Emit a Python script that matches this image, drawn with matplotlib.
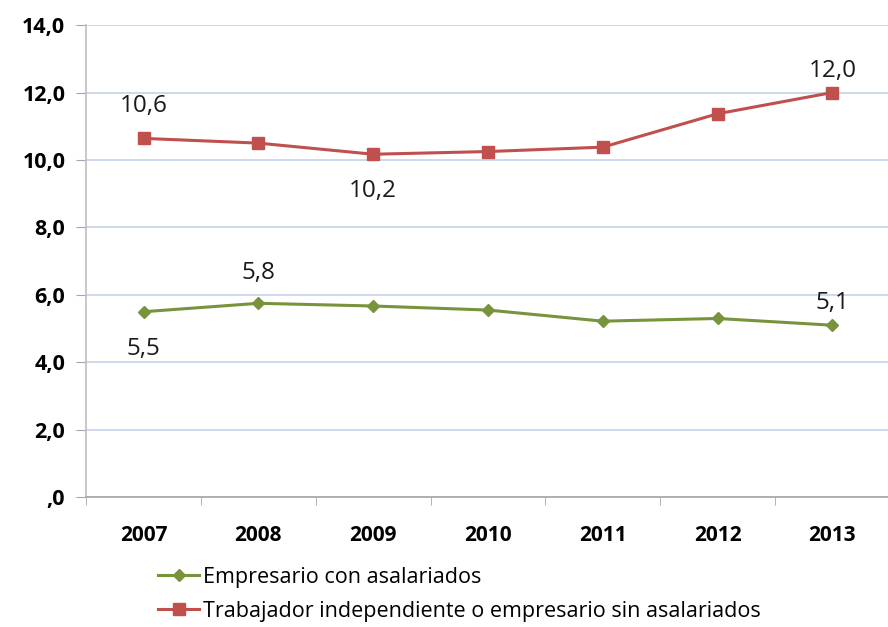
import matplotlib.pyplot as plt
import numpy as np

years = ["2007", "2008", "2009", "2010", "2011", "2012", "2013"]
empresario = [5.5, 5.75, 5.67, 5.55, 5.22, 5.3, 5.1]
independiente = [10.64, 10.5, 10.17, 10.25, 10.38, 11.37, 12.0]
yticks = [0, 2, 4, 6, 8, 10, 12, 14]
ytick_labels = [",0", "2,0", "4,0", "6,0", "8,0", "10,0", "12,0", "14,0"]

green = "#77933c"
red = "#c0504d"
grid_col = "#c9d6ec"

plt.rcParams['font.family'] = ['Open Sans', 'DejaVu Sans']

fig = plt.figure(figsize=(8.88, 6.27), dpi=100)
ax = fig.add_axes([0.097, 0.207, 0.905, 0.753])

x = np.arange(len(years))
l1, = ax.plot(x, empresario, color=green, lw=2.2, marker="D", ms=6.5,
              label="Empresario con asalariados")
l2, = ax.plot(x, independiente, color=red, lw=2.2, marker="s", ms=9,
              label="Trabajador independiente o empresario sin asalariados")

ax.set_xlim(-0.5, len(years) - 0.5)
ax.set_ylim(0, 14)
ax.set_yticks(yticks)
ax.set_yticklabels(ytick_labels, fontsize=15.5, fontweight="bold")
ax.set_xticks(x)
ax.set_xticklabels(years, fontsize=15, fontweight="bold")
ax.set_xticks(np.arange(-0.5, len(years)), minor=True)
ax.tick_params(axis="x", which="major", length=0, pad=20)
ax.tick_params(axis="x", which="minor", length=6, color="#a6a6a6", direction="out")
ax.tick_params(axis="y", length=7, color="#a6a6a6", pad=8)

ax.yaxis.grid(True, color=grid_col, lw=1.3)
ax.set_axisbelow(True)
for s in ["top", "right"]:
    ax.spines[s].set_visible(False)
ax.spines["left"].set_color("#bfbfbf")
ax.spines["bottom"].set_color("#a6a6a6")
ax.spines["left"].set_linewidth(1.2)
ax.spines["bottom"].set_linewidth(1.2)

# data labels
lab_kw = dict(fontsize=17.5, ha="center", color="#1a1a1a")
ax.annotate("10,6", (0, independiente[0]), xytext=(0, 15), textcoords="offset points", va="bottom", **lab_kw)
ax.annotate("10,2", (2, independiente[2]), xytext=(0, -18), textcoords="offset points", va="top", **lab_kw)
ax.annotate("12,0", (6, independiente[6]), xytext=(0, 7), textcoords="offset points", va="bottom", **lab_kw)
ax.annotate("5,5", (0, empresario[0]), xytext=(0, -18), textcoords="offset points", va="top", **lab_kw)
ax.annotate("5,8", (1, empresario[1]), xytext=(0, 13), textcoords="offset points", va="bottom", **lab_kw)
ax.annotate("5,1", (6, empresario[6]), xytext=(0, 7), textcoords="offset points", va="bottom", **lab_kw)

fig.legend(handles=[l1, l2], loc="upper left", bbox_to_anchor=(0.178, 0.096),
           frameon=False, fontsize=15.5, handlelength=1.9, handletextpad=0.2,
           labelspacing=0.6, borderaxespad=0, borderpad=0)

fig.savefig("out.png", dpi=100)
